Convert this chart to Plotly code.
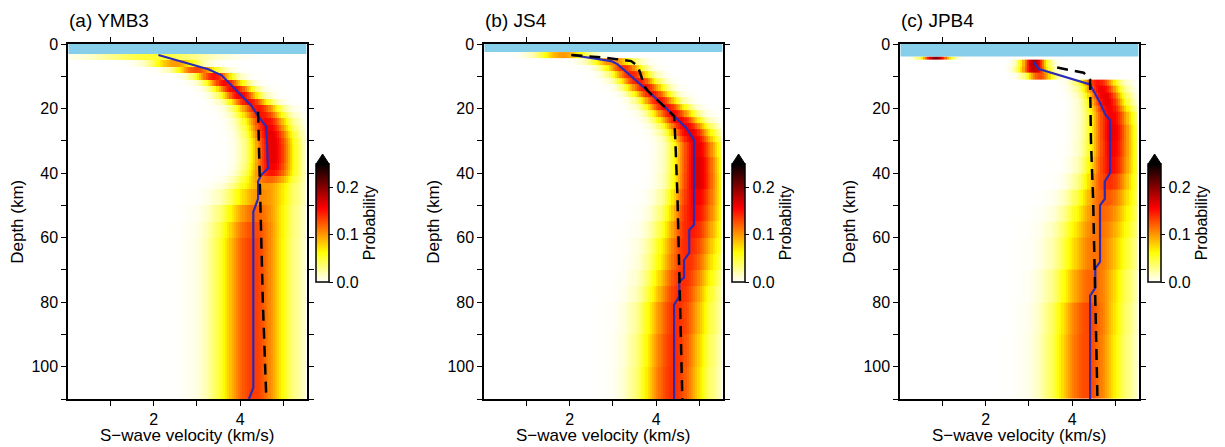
import numpy as np
import plotly.graph_objects as go

# the page body has an 8 px margin, so the figure is drawn 8 px in from the window corner
OFF = 8
W, H = 1225 - OFF, 447 - OFF
FONT = "Liberation Sans, Arial, sans-serif"


def px_x(px):
    return (px - OFF) / W


def px_y(py):
    return 1 - (py - OFF) / H


# panel names and water depth (km)
titles = ["(a) YMB3", "(b) JS4", "(c) JPB4"]
water = [3.1, 2.5, 3.9]

# probability field: per depth layer, peak velocity, spread and peak probability
a_edges = [3.1, 5, 7, 9, 11, 13, 15, 17, 19, 21, 23, 25, 27, 29, 31, 33, 35, 37, 39, 41, 43, 45, 50, 55, 60, 70, 80, 90, 100, 110]
a_center = [2.0, 2.5, 3.0, 3.4, 3.65, 3.85, 4.0, 4.2, 4.4, 4.5, 4.6, 4.65, 4.7, 4.74, 4.75, 4.75, 4.75, 4.74, 4.72, 4.66, 4.58, 4.5, 4.38, 4.33, 4.3, 4.3, 4.3, 4.3, 4.3]
a_sigma = [0.9, 0.38, 0.34, 0.3, 0.3, 0.3, 0.3, 0.32, 0.34, 0.35, 0.35, 0.35, 0.35, 0.35, 0.35, 0.35, 0.35, 0.36, 0.38, 0.43, 0.48, 0.52, 0.54, 0.55, 0.55, 0.55, 0.55, 0.55, 0.55]
a_peak = [0.05, 0.1, 0.13, 0.15, 0.155, 0.16, 0.16, 0.155, 0.15, 0.15, 0.155, 0.16, 0.165, 0.165, 0.165, 0.165, 0.165, 0.16, 0.15, 0.12, 0.1, 0.105, 0.12, 0.13, 0.135, 0.135, 0.135, 0.135, 0.135]

b_edges = [2.5, 4.5, 6.5, 8.5, 10.5, 12.5, 14.5, 16.5, 18.5, 20.5, 22.5, 24.5, 26.5, 28.5, 30.5, 35, 40, 45, 50, 55, 60, 65, 70, 75, 80, 90, 100, 110]
b_center = [1.85, 3.0, 3.25, 3.42, 3.58, 3.74, 3.9, 4.06, 4.22, 4.38, 4.53, 4.67, 4.78, 4.86, 4.93, 4.95, 4.95, 4.92, 4.88, 4.82, 4.75, 4.7, 4.62, 4.55, 4.48, 4.43, 4.4]
b_sigma = [0.4, 0.34, 0.3, 0.3, 0.3, 0.3, 0.3, 0.3, 0.32, 0.33, 0.34, 0.35, 0.35, 0.35, 0.36, 0.37, 0.38, 0.42, 0.45, 0.48, 0.5, 0.5, 0.5, 0.5, 0.52, 0.52, 0.52]
b_peak = [0.1, 0.11, 0.14, 0.145, 0.15, 0.15, 0.15, 0.15, 0.155, 0.155, 0.16, 0.16, 0.165, 0.165, 0.165, 0.17, 0.17, 0.16, 0.155, 0.148, 0.143, 0.14, 0.14, 0.14, 0.14, 0.14, 0.14]

c_edges = [3.9, 4.7, 7, 9, 11, 13, 15, 17, 19, 21, 25, 30, 35, 40, 45, 50, 55, 60, 70, 80, 90, 110]
c_center = [0.85, 3.12, 3.12, 3.25, 4.6, 4.68, 4.75, 4.8, 4.85, 4.9, 4.92, 4.92, 4.9, 4.85, 4.78, 4.7, 4.62, 4.55, 4.45, 4.38, 4.35]
c_sigma = [0.22, 0.2, 0.22, 0.22, 0.3, 0.3, 0.3, 0.3, 0.32, 0.34, 0.35, 0.36, 0.38, 0.42, 0.48, 0.52, 0.55, 0.55, 0.55, 0.55, 0.55]
c_peak = [0.2, 0.19, 0.18, 0.13, 0.15, 0.16, 0.165, 0.165, 0.16, 0.16, 0.165, 0.16, 0.155, 0.14, 0.125, 0.118, 0.115, 0.115, 0.12, 0.13, 0.13]

# mean model (blue) and reference model (dashed)
a_blue_v = [2.11, 3.26, 3.57, 3.88, 4.26, 4.41, 4.6, 4.64, 4.48, 4.41, 4.41, 4.3, 4.3, 4.2]
a_blue_d = [3.4, 7.8, 9.7, 14, 19.2, 22.3, 25.6, 38.5, 40.6, 42.6, 48, 52, 106.5, 110]
a_dash_v = [4.41, 4.46, 4.52, 4.6]
a_dash_d = [21, 48, 80, 110]

b_blue_v = [2.04, 2.96, 3.11, 3.42, 3.8, 4.1, 4.41, 4.69, 4.87, 4.87, 4.76, 4.76, 4.64, 4.64, 4.53, 4.53, 4.41, 4.41]
b_blue_d = [3.4, 5.3, 6.3, 9.9, 14.5, 18.2, 22.3, 26, 29.7, 56, 57.6, 64.7, 67, 72.4, 73.6, 78.3, 80.8, 110]
b_dash_v = [2.04, 2.8, 3.42, 3.57, 3.65, 3.72, 3.8, 4.1, 4.41, 4.44, 4.49, 4.6]
b_dash_d = [3.4, 4.2, 5.3, 6.8, 9.9, 13, 14.5, 18.2, 22.3, 30, 48, 110]

c_blue_v = [3.11, 3.23, 4.41, 4.64, 4.76, 4.87, 4.87, 4.75, 4.75, 4.64, 4.64, 4.53, 4.53, 4.41, 4.41]
c_blue_d = [5.6, 7.8, 12.5, 18.2, 21.8, 23.5, 40, 42.6, 48, 50, 67.5, 69.5, 75.6, 78, 110]
c_dash_v = [3.65, 4.26, 4.41, 4.43, 4.48, 4.58]
c_dash_d = [7.3, 8.9, 10.9, 30, 48, 110]

panels = [
    (a_edges, a_center, a_sigma, a_peak, a_blue_v, a_blue_d, a_dash_v, a_dash_d),
    (b_edges, b_center, b_sigma, b_peak, b_blue_v, b_blue_d, b_dash_v, b_dash_d),
    (c_edges, c_center, c_sigma, c_peak, c_blue_v, c_blue_d, c_dash_v, c_dash_d),
]

# window-pixel layout of the three frames
left_px = [68.3, 484.3, 900.3]
frame_w = 238.3
top_px, bot_px = 44, 399
xr = [0.03, 5.53]

colorscale = [[0, "#ffffff"], [0.25, "#ffff00"], [0.625, "#ff0000"], [1, "#000000"]]

v_edges = np.round(np.arange(0, 5.5001, 0.05), 3)
v_mid = (v_edges[:-1] + v_edges[1:]) / 2

fig = go.Figure()
shapes = []
annotations = []

for i, (edges, cen, sig, pk, bv, bd, dv, dd) in enumerate(panels):
    n = "" if i == 0 else str(i + 1)
    xa, ya = "x" + n, "y" + n

    z = np.array([p * np.exp(-0.5 * ((v_mid - c) / s) ** 2) for c, s, p in zip(cen, sig, pk)])

    x0 = left_px[i]
    x1 = x0 + frame_w
    fig.add_trace(go.Heatmap(
        x=v_edges, y=edges, z=z, xaxis=xa, yaxis=ya,
        colorscale=colorscale, zmin=0, zmax=0.25, zsmooth=False,
        hoverinfo="skip",
        colorbar=dict(
            x=px_x(x1 + 9.5), xanchor="left", xpad=0,
            y=px_y(282), yanchor="bottom", ypad=0,
            len=118, lenmode="pixels", thickness=13,
            outlinewidth=1.5, outlinecolor="black",
            tickvals=[0, 0.1, 0.2], ticktext=["0.0", "0.1", "0.2"],
            ticks="outside", ticklen=4, tickcolor="black",
            tickfont=dict(size=16, color="black", family=FONT),
            title=dict(text="Probability", side="right",
                       font=dict(size=16, color="black", family=FONT)),
        ),
    ))
    fig.add_trace(go.Scatter(x=bv, y=bd, xaxis=xa, yaxis=ya, mode="lines",
                             line=dict(color="#2b2bb8", width=2.2), showlegend=False))
    fig.add_trace(go.Scatter(x=dv, y=dd, xaxis=xa, yaxis=ya, mode="lines",
                             line=dict(color="black", width=2.5, dash="11px,7px"),
                             showlegend=False))

    fig.update_layout(**{
        "xaxis" + n: dict(
            domain=[px_x(x0), px_x(x1)], range=xr, anchor=ya, automargin=False,
            tickvals=[1, 2, 3, 4, 5], ticktext=["", "2", "", "4", ""],
            ticks="outside", ticklen=5, tickcolor="black",
            showline=True, linewidth=2, linecolor="black", mirror="ticks",
            showgrid=False, zeroline=False,
            tickfont=dict(size=16, color="black", family=FONT),
        ),
        "yaxis" + n: dict(
            domain=[px_y(bot_px), px_y(top_px)], range=[110, 0], anchor=xa, automargin=False,
            tickvals=list(range(0, 111, 10)),
            ticktext=[str(t) if t % 20 == 0 else "" for t in range(0, 111, 10)],
            ticks="outside", ticklen=5, tickcolor="black",
            showline=True, linewidth=2, linecolor="black", mirror="ticks",
            showgrid=False, zeroline=False,
            tickfont=dict(size=16, color="black", family=FONT),
        ),
    })

    # water layer
    shapes.append(dict(type="rect", xref=xa, yref=ya, x0=xr[0], x1=xr[1], y0=0, y1=water[i],
                       fillcolor="#87ceeb", line=dict(width=0), layer="above"))
    # colorbar over-range triangle
    cx0, cx1 = px_x(x1 + 9.5), px_x(x1 + 22.5)
    shapes.append(dict(type="path", xref="paper", yref="paper",
                       path=f"M {cx0},{px_y(164)} L {cx1},{px_y(164)} L {(cx0 + cx1) / 2},{px_y(154)} Z",
                       fillcolor="black", line=dict(color="black", width=1)))

    annotations.append(dict(text=titles[i], xref="paper", yref="paper", x=px_x(x0 - 1), y=px_y(20.5),
                            xanchor="left", yanchor="middle", showarrow=False,
                            font=dict(size=19, color="black", family=FONT)))
    annotations.append(dict(text="S\u2212wave velocity (km/s)", xref="paper", yref="paper",
                            x=px_x((x0 + x1) / 2), y=px_y(435), xanchor="center", yanchor="middle",
                            showarrow=False, font=dict(size=17, color="black", family=FONT)))
    annotations.append(dict(text="Depth (km)", xref="paper", yref="paper",
                            x=px_x(x0 - 51), y=px_y(221.5), xanchor="center", yanchor="middle",
                            textangle=-90, showarrow=False,
                            font=dict(size=17, color="black", family=FONT)))

fig.update_layout(
    width=W, height=H,
    margin=dict(l=0, r=0, t=0, b=0, autoexpand=False),
    paper_bgcolor="white", plot_bgcolor="white",
    showlegend=False,
    shapes=shapes, annotations=annotations,
    font=dict(family=FONT, color="black"),
)

fig.write_html("out.html")
